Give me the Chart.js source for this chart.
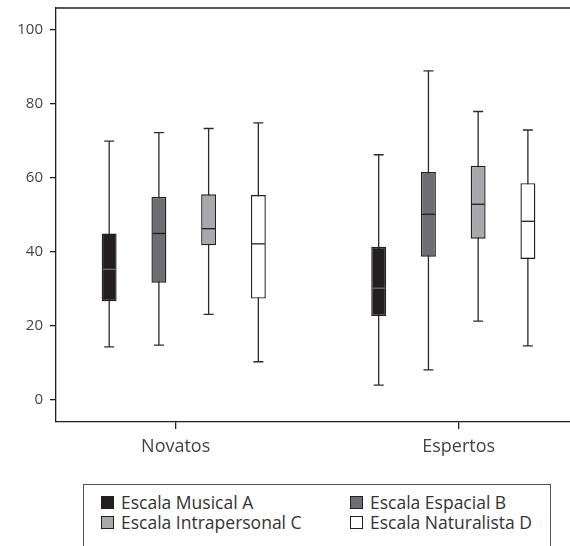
<!DOCTYPE html>
<html>
<head>
<meta charset="utf-8">
<script src="https://cdn.jsdelivr.net/npm/chart.js@4"></script>
<style>
  body { margin: 0; background: #fff; font-family: "Open Sans", sans-serif; overflow: hidden; }
  #wrap { position: relative; width: 570px; height: 470px; }
  #legend {
    position: absolute; left: 83px; top: 484px; width: 468px; height: 100px;
    border: 1.3px solid #555; box-sizing: border-box;
  }
  .item { position: absolute; display: flex; align-items: center; font-size: 17.5px; color: #333; white-space: nowrap; line-height: 20px; }
  .item span.sq { display: inline-block; width: 11px; height: 11px; border: 1.5px solid #231f20; margin-right: 7px; }
</style>
</head>
<body>
<div id="wrap"><canvas id="chart"></canvas></div>
<div id="legend"></div>

<script>
// DATA
const groups = ["Novatos", "Espertos"];
const scaleNames = ["Escala Musical A", "Escala Espacial B", "Escala Intrapersonal C", "Escala Naturalista D"];
const yTicks = [0, 20, 40, 60, 80, 100];

// one row per scale, one value per group (Novatos, Espertos)
const lowWhisker  = [[14.2, 3.9], [14.7, 8.0], [23.0, 21.2], [10.2, 14.5]];
const q1          = [[26.6, 22.6], [31.6, 38.6], [41.7, 43.5], [27.3, 38.0]];
const medians     = [[35.2, 30.1], [44.9, 50.1], [46.2, 52.8], [42.1, 48.2]];
const q3          = [[44.9, 41.3], [54.8, 61.5], [55.5, 63.2], [55.3, 58.5]];
const highWhisker = [[69.9, 66.2], [72.2, 88.9], [73.3, 77.9], [74.8, 72.9]];

// STYLE
const fills = ["#231f20", "#6d6e71", "#a7a9ac", "#ffffff"];
const medianColors = ["#6d6e71", "#231f20", "#231f20", "#231f20"];
const ink = "#231f20";

// whiskers behind the boxes, medians + top frame on top
const boxPlot = {
  id: "boxPlot",
  beforeDatasetsDraw(chart) {
    const ctx = chart.ctx, y = chart.scales.y;
    ctx.save();
    ctx.strokeStyle = "#2b2b2b";
    ctx.lineWidth = 1.3;
    chart.data.datasets.forEach((ds, i) => {
      chart.getDatasetMeta(i).data.forEach((bar, j) => {
        const lo = y.getPixelForValue(lowWhisker[i][j]);
        const hi = y.getPixelForValue(highWhisker[i][j]);
        ctx.beginPath();
        ctx.moveTo(bar.x, lo); ctx.lineTo(bar.x, hi);
        ctx.moveTo(bar.x - 5, lo); ctx.lineTo(bar.x + 5, lo);
        ctx.moveTo(bar.x - 5, hi); ctx.lineTo(bar.x + 5, hi);
        ctx.stroke();
      });
    });
    ctx.restore();
  },
  afterDatasetsDraw(chart) {
    const ctx = chart.ctx, y = chart.scales.y, area = chart.chartArea;
    ctx.save();
    ctx.lineWidth = 1.3;
    chart.data.datasets.forEach((ds, i) => {
      ctx.strokeStyle = medianColors[i];
      chart.getDatasetMeta(i).data.forEach((bar, j) => {
        const m = y.getPixelForValue(medians[i][j]);
        ctx.beginPath();
        ctx.moveTo(bar.x - bar.width / 2 + 1, m);
        ctx.lineTo(bar.x + bar.width / 2 - 1, m);
        ctx.stroke();
      });
    });
    ctx.strokeStyle = ink;
    ctx.beginPath();
    ctx.moveTo(area.left, area.top);
    ctx.lineTo(area.right, area.top);
    ctx.stroke();
    ctx.restore();
  }
};

const datasets = scaleNames.map((name, i) => ({
  label: name,
  data: groups.map((g, j) => ({ x: j, y: [q1[i][j], q3[i][j]] })),
  backgroundColor: fills[i],
  borderColor: ink,
  borderWidth: 1.4,
  borderSkipped: false,
  categoryPercentage: 0.738,
  barPercentage: 0.3
}));

new Chart(document.getElementById("chart"), {
  type: "bar",
  data: { datasets: datasets },
  options: {
    responsive: true,
    maintainAspectRatio: false,
    animation: false,
    layout: { padding: { top: 8, right: 0, left: 0, bottom: 0 } },
    plugins: { legend: { display: false }, tooltip: { enabled: false } },
    scales: {
      x: {
        type: "linear",
        min: -0.474,
        max: 1.433,
        offset: false,
        afterBuildTicks: axis => { axis.ticks = [{ value: -0.03 }, { value: 1.02 }]; },
        afterFit: axis => { axis.height = 48; },
        border: { display: true, color: ink, width: 1.3 },
        grid: { offset: false, drawOnChartArea: false, drawTicks: true, tickLength: 7, color: ink, lineWidth: 1.3 },
        ticks: {
          autoSkip: false,
          maxRotation: 0,
          padding: 7,
          color: "#444",
          font: { family: "Open Sans", size: 18 },
          callback: (v, i) => groups[i]
        }
      },
      y: {
        min: -6.1,
        max: 105.9,
        afterBuildTicks: axis => { axis.ticks = yTicks.map(v => ({ value: v })); },
        afterFit: axis => { axis.width = 56; axis.paddingTop = 0; axis.paddingBottom = 0; },
        border: { display: true, color: ink, width: 1.3 },
        grid: { drawOnChartArea: false, drawTicks: true, tickLength: 6, color: ink, lineWidth: 1.3 },
        ticks: {
          padding: 7,
          color: "#444",
          font: { family: "Open Sans", size: 15 }
        }
      }
    }
  },
  plugins: [boxPlot]
});

// LEGEND
const legend = document.getElementById("legend");
const legendPos = [[17, 7], [266, 7], [17, 27], [266, 27]];
scaleNames.forEach((name, i) => {
  legend.innerHTML += `
    <div class="item" style="left:${legendPos[i][0]}px; top:${legendPos[i][1]}px">
      <span class="sq" style="background:${fills[i]}"></span>${name}
    </div>`;
});
</script>
</body>
</html>
